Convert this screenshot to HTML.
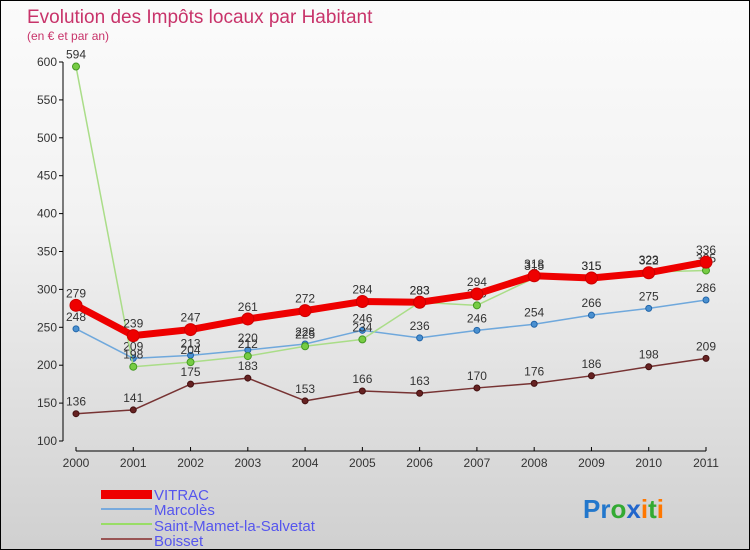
<!DOCTYPE html>
<html><head><meta charset="utf-8"><style>
body{margin:0}
#c{width:748px;height:548px;border:1px solid #000;background:linear-gradient(#fbfbfb,#f2f2f2 40%,#d0d0d0);position:relative;overflow:hidden;font-family:"Liberation Sans",sans-serif}
</style></head><body>
<div id="c">
<svg id="s" width="748" height="548" xmlns="http://www.w3.org/2000/svg" style="position:absolute;left:0;top:0">
<text x="26" y="22" font-size="19" fill="#c8336a">Evolution des Impôts locaux par Habitant</text>
<text x="26" y="39" font-size="12" fill="#c8336a">(en € et par an)</text>
<g id="ax"></g><g id="ser"></g>
<g font-size="15" fill="#5555ee">
<rect x="100" y="489" width="51" height="9" fill="#e00"/>
<text x="153" y="499">VITRAC</text>
<line x1="100" y1="508" x2="151" y2="508" stroke="#78aadd" stroke-width="2"/>
<text x="153" y="514">Marcolès</text>
<line x1="100" y1="523" x2="151" y2="523" stroke="#99dd66" stroke-width="2"/>
<text x="153" y="530">Saint-Mamet-la-Salvetat</text>
<line x1="100" y1="538" x2="151" y2="538" stroke="#995555" stroke-width="2"/>
<text x="153" y="545">Boisset</text>
</g>
<g font-size="26" font-weight="bold">
<text x="582" y="517"><tspan fill="#2277cc">Pr</tspan><tspan fill="#33aa33">o</tspan><tspan fill="#2266cc">x</tspan><tspan fill="#ff7700">i</tspan><tspan fill="#33aa33">t</tspan><tspan fill="#ff7700">i</tspan></text>
</g>
</svg></div>
<script>
const years=[2000,2001,2002,2003,2004,2005,2006,2007,2008,2009,2010,2011];
const vitrac=[279,239,247,261,272,284,283,294,318,315,322,336];
const marcoles=[248,209,213,220,228,246,236,246,254,266,275,286];
const stmamet=[594,198,204,212,225,234,283,279,315,315,323,325];
const boisset=[136,141,175,183,153,166,163,170,176,186,198,209];
const yTicks=[100,150,200,250,300,350,400,450,500,550,600];
const NS="http://www.w3.org/2000/svg";
const X=i=>75+i*(630/11);
const Y=v=>440-(v-100)*379/500;
function mk(t,a,p){const e=document.createElementNS(NS,t);for(const k in a)e.setAttribute(k,a[k]);p.appendChild(e);return e;}
const ax=document.getElementById('ax');
const yl=mk('line',{x1:62,y1:Y(600),x2:62,y2:Y(100),stroke:'#000'},ax);

yTicks.forEach(v=>{mk('line',{x1:58,y1:Y(v),x2:62,y2:Y(v),stroke:'#000'},ax);
const t=mk('text',{x:56,y:Y(v)+4,'text-anchor':'end','font-size':12,fill:'#333'},ax);t.textContent=v;
});
const xl=mk('line',{x1:75,y1:450,x2:705,y2:450,stroke:'#000'},ax);

years.forEach((y,i)=>{mk('line',{x1:X(i),y1:446,x2:X(i),y2:450,stroke:'#000'},ax);
const t=mk('text',{x:X(i),y:466,'text-anchor':'middle','font-size':12,fill:'#333'},ax);t.textContent=y;
});
const ser=document.getElementById('ser');
function series(d,name,col,w,dot,r,dotStroke){
const g=mk('g',{},ser);
const p=mk('polyline',{points:d.map((v,i)=>X(i)+','+Y(v)).join(' '),fill:'none',stroke:col,'stroke-width':w,'stroke-linejoin':'round'},g);

d.forEach((v,i)=>{const c=mk('circle',{cx:X(i),cy:Y(v),r:r,fill:dot,stroke:dotStroke,'stroke-width':1},g);

const t=mk('text',{x:X(i),y:Y(v)-8,'text-anchor':'middle','font-size':12,fill:'#333'},g);t.textContent=v;
});}
series(boisset,'boisset','#773333',1.5,'#662222',3,'#441111');
series(marcoles,'marcoles','#6fa8dc',1.5,'#4a90d0',3,'#2266aa');
series(stmamet,'saint-mamet','#aadd88',1.5,'#77cc44',3.5,'#449922');
series(vitrac,'vitrac','#ee0000',7,'#ee0000',6,'#cc0000');
</script></body></html>
